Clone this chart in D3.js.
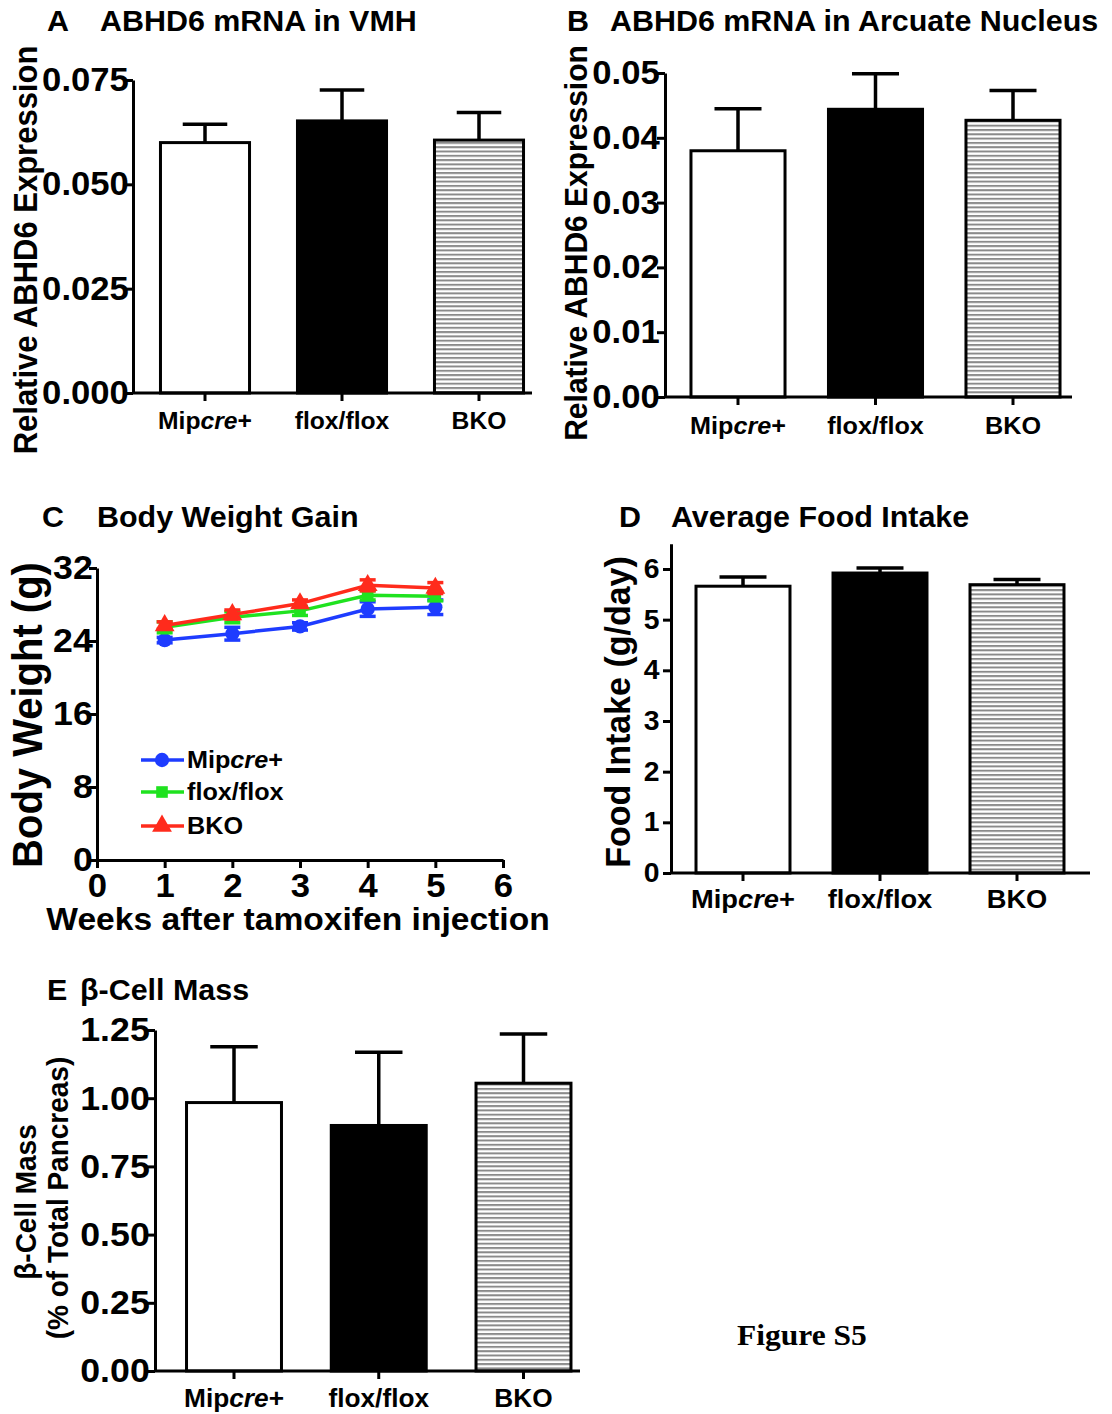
<!DOCTYPE html>
<html>
<head>
<meta charset="utf-8">
<script src="https://cdn.jsdelivr.net/npm/d3@7"></script>
<style>
  body { margin: 0; background: #fff; }
  svg { display: block; font-family: "Liberation Sans", Arial, sans-serif; font-weight: bold; }
</style>
</head>
<body>
<svg id="fig" width="1112" height="1414"></svg>
<script>
// ---- data ----
const groups = ['Mipcre+', 'flox/flox', 'BKO'];

const vmhMean = [0.0600, 0.0652, 0.0606];
const vmhSem  = [0.0044, 0.0074, 0.0066];

const arcMean = [0.0380, 0.0444, 0.0427];
const arcSem  = [0.0065, 0.0055, 0.0046];

const foodMean = [5.66, 5.92, 5.69];
const foodSem  = [0.18, 0.10, 0.10];

const betaMean = [0.984, 0.900, 1.055];
const betaSem  = [0.205, 0.268, 0.180];

const weeks = [1, 2, 3, 4, 5];
const wtMipcre = [24.1, 24.8, 25.6, 27.5, 27.7];
const wtFlox   = [25.5, 26.6, 27.3, 29.0, 28.9];
const wtBko    = [25.7, 26.9, 28.1, 30.1, 29.8];
const seMipcre = [0.3, 0.7, 0.4, 0.8, 0.8];
const seFlox   = [0.6, 0.6, 0.5, 0.5, 0.5];
const seBko    = [0.4, 0.5, 0.4, 0.6, 0.6];

const ticksA = [0, 0.025, 0.05, 0.075];
const ticksB = [0, 0.01, 0.02, 0.03, 0.04, 0.05];
const ticksC = [0, 8, 16, 24, 32];
const ticksCx = [0, 1, 2, 3, 4, 5, 6];
const ticksD = [0, 1, 2, 3, 4, 5, 6];
const ticksE = [0, 0.25, 0.5, 0.75, 1.0, 1.25];

// slight sideways stretch of the lettering in the source
const SX = 1.05;
const svg = d3.select('#fig');

// hatched fill for BKO bars
const defs = svg.append('defs');
const pat = defs.append('pattern')
  .attr('id', 'hatch')
  .attr('patternUnits', 'userSpaceOnUse')
  .attr('width', 10).attr('height', 4.3);
pat.append('rect').attr('width', 10).attr('height', 4.3).attr('fill', '#fff');
pat.append('rect').attr('width', 10).attr('height', 2).attr('fill', '#8a8a8a');

const barFills = ['#fff', '#000', 'url(#hatch)'];

// writes a label, putting "cre" in italics
function fillLabel(t, s) {
  const m = s.match(/^(Mip)(cre)(\+)$/);
  if (m) {
    t.append('tspan').text(m[1]);
    t.append('tspan').attr('font-style', 'italic').text(m[2]);
    t.append('tspan').text(m[3]);
  } else {
    t.text(s);
  }
}

function txt(g, x, y, s, size, opt = {}) {
  const t = g.append('text')
    .attr('transform', `translate(${x},${y}) scale(${SX},1)` + (opt.rot ? ' rotate(-90)' : ''))
    .attr('font-size', size)
    .attr('text-anchor', opt.anchor || 'start')
    .attr('fill', '#000');
  if (opt.family) t.attr('font-family', opt.family);
  fillLabel(t, s);
  return t;
}

function styleAxis(a, fontSize) {
  a.attr('font-family', null).attr('font-size', null);
  a.select('.domain').attr('stroke', '#000').attr('stroke-width', 3);
  a.selectAll('.tick line').attr('stroke', '#000').attr('stroke-width', 3);
  a.selectAll('.tick text')
    .attr('font-size', fontSize)
    .attr('fill', '#000')
    .attr('transform', `scale(${SX},1)`);
}

// bar chart with upward error bars
function barPanel(o) {
  const g = svg.append('g');
  const y = d3.scaleLinear().domain([0, o.yMax]).range([o.y0, o.y1]);
  const x = d3.scaleBand().domain(groups)
    .range([o.c0 - o.step / 2, o.c0 + o.step * 2.5])
    .paddingInner(o.pad).paddingOuter(o.pad / 2);
  const bw = x.bandwidth();

  // error bars (drawn first, bar outline covers the base)
  const eb = g.append('g').attr('stroke', '#000').attr('stroke-width', 3.5);
  groups.forEach((d, i) => {
    const cx = x(d) + bw / 2;
    const top = y(o.mean[i] + o.sem[i]);
    eb.append('line').attr('x1', cx).attr('x2', cx).attr('y1', y(o.mean[i])).attr('y2', top);
    eb.append('line').attr('x1', cx - bw * 0.25).attr('x2', cx + bw * 0.25).attr('y1', top).attr('y2', top);
  });

  g.selectAll('rect.bar').data(groups).join('rect')
    .attr('class', 'bar')
    .attr('x', d => x(d))
    .attr('width', bw)
    .attr('y', (d, i) => y(o.mean[i]))
    .attr('height', (d, i) => y(0) - y(o.mean[i]))
    .attr('fill', (d, i) => barFills[i])
    .attr('stroke', '#000')
    .attr('stroke-width', 3);

  // x axis: line + ticks under each bar
  g.append('line')
    .attr('x1', o.ax).attr('x2', o.xEnd)
    .attr('y1', y(0)).attr('y2', y(0))
    .attr('stroke', '#000').attr('stroke-width', 3);
  const xa = g.append('g').attr('transform', `translate(0,${y(0)})`)
    .call(d3.axisBottom(x).tickSize(8).tickFormat(''));
  xa.select('.domain').remove();
  xa.selectAll('.tick line').attr('stroke', '#000').attr('stroke-width', 3);

  const ya = g.append('g').attr('transform', `translate(${o.ax},0)`)
    .call(d3.axisLeft(y).tickValues(o.ticks).tickFormat(o.fmt)
      .tickSize(8).tickSizeOuter(0).tickPadding(o.tp));
  styleAxis(ya, o.tickFont);

  groups.forEach(d => txt(g, x(d) + bw / 2, o.labY, d, o.catFont, { anchor: 'middle' }));
  return g;
}

// ---- panel titles ----
txt(svg, 47, 31, 'A', 29);
txt(svg, 100, 31, 'ABHD6 mRNA in VMH', 29);
txt(svg, 567, 31, 'B', 29);
txt(svg, 610, 31, 'ABHD6 mRNA in Arcuate Nucleus', 29);
txt(svg, 42, 527, 'C', 29);
txt(svg, 97, 527, 'Body Weight Gain', 29);
txt(svg, 619, 527, 'D', 29);
txt(svg, 671, 527, 'Average Food Intake', 29);
txt(svg, 47, 1000, 'E', 29);
txt(svg, 80, 1000, 'β-Cell Mass', 29);

// ---- A ----
barPanel({ mean: vmhMean, sem: vmhSem, yMax: 0.075, y0: 393, y1: 80,
  ticks: ticksA, fmt: d3.format('.3f'), ax: 133, c0: 205, step: 137, pad: 0.35,
  xEnd: 532, labY: 429, tickFont: 33, tp: -4, catFont: 23.5 });
txt(svg, 37, 250, 'Relative ABHD6 Expression', 31, { rot: true, anchor: 'middle' });

// ---- B ----
barPanel({ mean: arcMean, sem: arcSem, yMax: 0.05, y0: 397, y1: 73,
  ticks: ticksB, fmt: d3.format('.2f'), ax: 665, c0: 738, step: 137.5, pad: 0.316,
  xEnd: 1072, labY: 434, tickFont: 33, tp: -3, catFont: 24 });
txt(svg, 587, 243, 'Relative ABHD6 Expression', 30, { rot: true, anchor: 'middle' });

// ---- D ----
barPanel({ mean: foodMean, sem: foodSem, yMax: 6.5, y0: 873, y1: 873 - 50.67 * 6.5,
  ticks: ticksD, fmt: d3.format('d'), ax: 671, c0: 743, step: 137, pad: 0.314,
  xEnd: 1090, labY: 908, tickFont: 27, tp: 3, catFont: 26 });
txt(svg, 630, 712, 'Food Intake (g/day)', 34, { rot: true, anchor: 'middle' });

// ---- E ----
barPanel({ mean: betaMean, sem: betaSem, yMax: 1.25, y0: 1371, y1: 1030,
  ticks: ticksE, fmt: d3.format('.2f'), ax: 155, c0: 234, step: 144.75, pad: 0.344,
  xEnd: 580, labY: 1407, tickFont: 34, tp: -3, catFont: 25 });
txt(svg, 36, 1202, 'β-Cell Mass', 28, { rot: true, anchor: 'middle' });
txt(svg, 68, 1198, '(% of Total Pancreas)', 28, { rot: true, anchor: 'middle' });

// ---- C: body weight lines ----
const gC = svg.append('g');
const xC = d3.scaleLinear().domain([0, 6]).range([97, 503]);
const yC = d3.scaleLinear().domain([0, 32]).range([860, 568]);

const series = [
  { name: 'Mipcre+', mean: wtMipcre, se: seMipcre, color: '#1e3cff', sym: d3.symbolCircle, size: 160 },
  { name: 'flox/flox', mean: wtFlox, se: seFlox, color: '#1fe21f', sym: d3.symbolSquare, size: 135 },
  { name: 'BKO', mean: wtBko, se: seBko, color: '#ff2b1c', sym: d3.symbolTriangle, size: 170 }
];

const line = d3.line().x((d, i) => xC(weeks[i])).y(d => yC(d));

series.forEach(s => {
  const gs = gC.append('g');
  gs.append('path').attr('d', line(s.mean))
    .attr('fill', 'none').attr('stroke', s.color).attr('stroke-width', 3.5);
  weeks.forEach((w, i) => {
    const cx = xC(w), lo = yC(s.mean[i] - s.se[i]), hi = yC(s.mean[i] + s.se[i]);
    gs.append('line').attr('x1', cx).attr('x2', cx).attr('y1', lo).attr('y2', hi)
      .attr('stroke', s.color).attr('stroke-width', 3.5);
    [lo, hi].forEach(yy => gs.append('line')
      .attr('x1', cx - 8).attr('x2', cx + 8).attr('y1', yy).attr('y2', yy)
      .attr('stroke', s.color).attr('stroke-width', 3.5));
  });
  gs.selectAll('path.pt').data(s.mean).join('path')
    .attr('class', 'pt')
    .attr('transform', (d, i) => `translate(${xC(weeks[i])},${yC(d)})`)
    .attr('d', d3.symbol().type(s.sym).size(s.size)())
    .attr('fill', s.color);
});

const xaC = gC.append('g').attr('transform', `translate(0,${yC(0)})`)
  .call(d3.axisBottom(xC).tickValues(ticksCx).tickFormat(d3.format('d'))
    .tickSize(8).tickSizeOuter(0).tickPadding(6));
styleAxis(xaC, 33);
const yaC = gC.append('g').attr('transform', `translate(${xC(0)},0)`)
  .call(d3.axisLeft(yC).tickValues(ticksC).tickFormat(d3.format('d'))
    .tickSize(8).tickSizeOuter(0).tickPadding(-4));
styleAxis(yaC, 34);

txt(gC, 298, 930, 'Weeks after tamoxifen injection', 32, { anchor: 'middle' });
txt(gC, 42, 715, 'Body Weight (g)', 40, { rot: true, anchor: 'middle' });

// legend
const legY = [760, 792, 826];
series.forEach((s, i) => {
  const ly = legY[i];
  gC.append('line').attr('x1', 141).attr('x2', 184).attr('y1', ly).attr('y2', ly)
    .attr('stroke', s.color).attr('stroke-width', 3.5);
  gC.append('path').attr('transform', `translate(162,${ly})`)
    .attr('d', d3.symbol().type(s.sym).size(s.size)()).attr('fill', s.color);
  txt(gC, 187, ly + 8, s.name, 24);
});

// figure label
txt(svg, 737, 1345, 'Figure S5', 30, { family: '"Liberation Serif", "Times New Roman", serif' });
</script>
</body>
</html>
